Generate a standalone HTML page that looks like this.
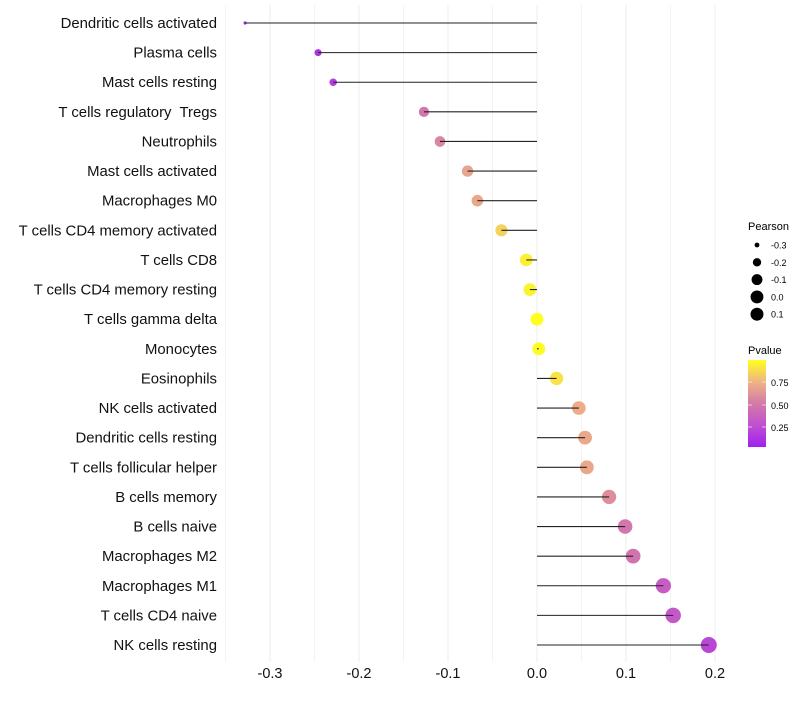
<!DOCTYPE html>
<html><head><meta charset="utf-8"><style>
body{margin:0;background:#fff;font-family:"Liberation Sans",sans-serif}
</style></head><body>
<svg id="chart" width="800" height="700" xmlns="http://www.w3.org/2000/svg" font-family="Liberation Sans, sans-serif">
<defs><linearGradient id="pg" x1="0" y1="1" x2="0" y2="0">
<stop offset="0" stop-color="#a020f0"/><stop offset="0.25" stop-color="#c050d0"/><stop offset="0.5" stop-color="#d47aa8"/><stop offset="0.75" stop-color="#efb484"/><stop offset="1" stop-color="#ffff20"/></linearGradient></defs>
<g id="grid"></g><g id="marks"></g><g id="labels"></g>
<g font-size="10" fill="#000">
<text x="748" y="230" font-size="11">Pearson</text>
<g id="sizeleg"></g>
<text x="748" y="354" font-size="11">Pvalue</text>
<rect x="748" y="360" width="18" height="87" fill="url(#pg)"/>
<g stroke="#fff" stroke-opacity="0.6"><line x1="748" y1="382" x2="752" y2="382"/><line x1="762" y1="382" x2="766" y2="382"/><line x1="748" y1="405" x2="752" y2="405"/><line x1="762" y1="405" x2="766" y2="405"/><line x1="748" y1="427" x2="752" y2="427"/><line x1="762" y1="427" x2="766" y2="427"/></g>
<text x="771" y="386" font-size="9">0.75</text><text x="771" y="409" font-size="9">0.50</text><text x="771" y="431" font-size="9">0.25</text>
</g>
</svg>
<script>
const categories=["Dendritic cells activated","Plasma cells","Mast cells resting","T cells regulatory  Tregs","Neutrophils","Mast cells activated","Macrophages M0","T cells CD4 memory activated","T cells CD8","T cells CD4 memory resting","T cells gamma delta","Monocytes","Eosinophils","NK cells activated","Dendritic cells resting","T cells follicular helper","B cells memory","B cells naive","Macrophages M2","Macrophages M1","T cells CD4 naive","NK cells resting"];
const pearson=[-0.328,-0.246,-0.229,-0.127,-0.109,-0.078,-0.067,-0.040,-0.012,-0.008,0.000,0.002,0.022,0.047,0.054,0.056,0.081,0.099,0.108,0.142,0.153,0.193];
const pvalue=[0.05,0.1,0.15,0.48,0.55,0.68,0.7,0.85,0.95,0.96,1.0,0.99,0.9,0.72,0.7,0.7,0.58,0.48,0.46,0.33,0.3,0.2];
const xTicks=[-0.3,-0.2,-0.1,0.0,0.1,0.2];
const xTickLabels=["-0.3","-0.2","-0.1","0.0","0.1","0.2"];
const sizeLegend=[-0.3,-0.2,-0.1,0.0,0.1];
const NS="http://www.w3.org/2000/svg";
const x=v=>537+890*v;
const y=i=>23+i*(622/21);
const r=v=>Math.sqrt(Math.max(2.25+(v+0.33)*118.75,1));
const stops=[[0,[160,32,240]],[0.25,[192,80,208]],[0.5,[212,122,168]],[0.75,[239,180,132]],[1,[255,255,32]]];
function col(p){for(let k=1;k<stops.length;k++){if(p<=stops[k][0]){const a=stops[k-1],b=stops[k],t=(p-a[0])/(b[0]-a[0]);return "rgb("+a[1].map((c,j)=>Math.round(c+(b[1][j]-c)*t)).join(",")+")";}}return "rgb(255,255,32)";}
function mk(tag,at,parent){const e=document.createElementNS(NS,tag);for(const k in at)e.setAttribute(k,at[k]);parent.appendChild(e);return e;}
const grid=document.getElementById('grid'),marks=document.getElementById('marks'),labels=document.getElementById('labels');
for(let v=-0.35;v<=0.2001;v+=0.05){const g=mk('line',{x1:x(v),x2:x(v),y1:5,y2:662,stroke:'#ebebeb','stroke-width':Math.abs(Math.round(v*20))%2===0?0.9:0.6},grid);

}
xTicks.forEach((v,i)=>{const t=mk('text',{x:x(v),y:678,'text-anchor':'middle','font-size':14.5,fill:'#111'},labels);t.textContent=xTickLabels[i];

});
categories.forEach((c,i)=>{const t=mk('text',{x:217,y:y(i)+5,'text-anchor':'end','font-size':14.9,fill:'#111','xml:space':'preserve',style:'white-space:pre'},labels);t.textContent=c;


const d=mk('circle',{cx:x(pearson[i]),cy:y(i),r:r(pearson[i]),fill:col(pvalue[i])},marks);


const l=mk('line',{x1:x(0),x2:x(pearson[i]),y1:y(i),y2:y(i),stroke:'#222','stroke-width':1.1},marks);

});
const sl=document.getElementById('sizeleg');
sizeLegend.forEach((v,i)=>{const cy=245+i*17.3;const c=mk('circle',{cx:757,cy:cy,r:Math.min(r(v),6.5),fill:'#000'},sl);


const t=mk('text',{x:771,y:cy+3.5,'font-size':9},sl);t.textContent=v.toFixed(1);

});
</script>
</body></html>
